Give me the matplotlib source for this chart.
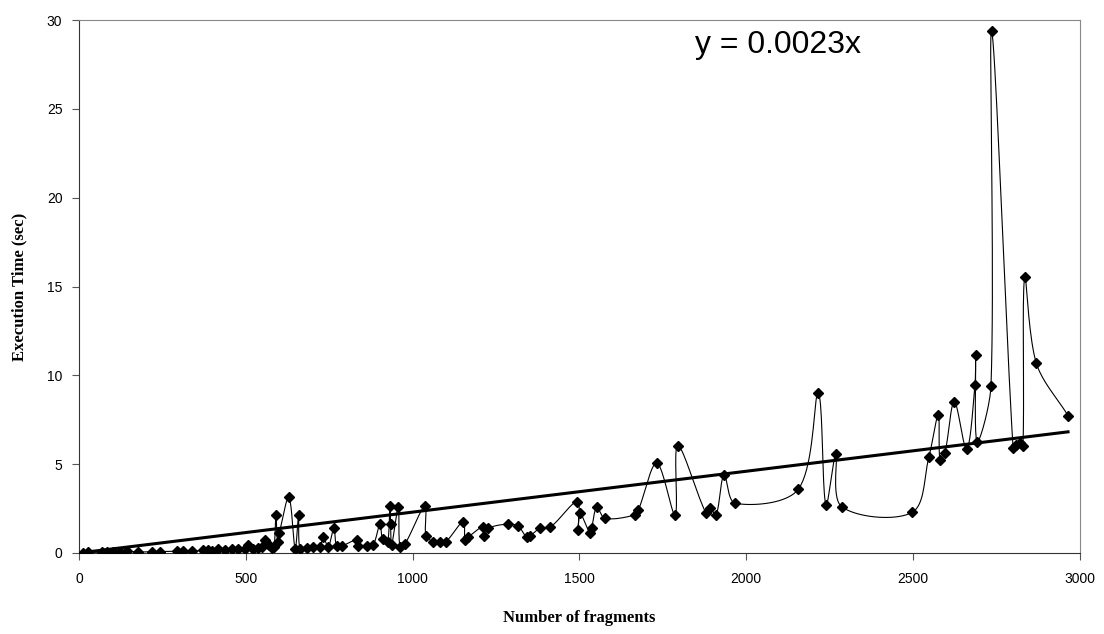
import numpy as np
import matplotlib
matplotlib.use('Agg')
import matplotlib.pyplot as plt

fragments = [13, 28, 68, 83, 103, 123, 143, 178, 218, 243, 293, 313, 338, 373, 388,
             400, 418, 438, 458, 478, 498, 508, 523, 538, 548, 558, 568, 578, 585,
             590, 595, 600, 629, 648, 658, 662, 682, 702, 722, 732, 747, 764, 772, 787,
             832, 837, 862, 882, 902, 910, 925, 932, 934, 937, 957, 962, 977,
             1037, 1040, 1062, 1082, 1100, 1152, 1157, 1167, 1212, 1214, 1227,
             1287, 1317, 1342, 1352, 1382, 1412, 1494, 1496, 1502, 1532, 1537,
             1552, 1577, 1667, 1677, 1732, 1787, 1795, 1880, 1892, 1910, 1934,
             1967, 2156, 2216, 2239, 2269, 2286, 2498, 2548, 2576, 2581, 2596,
             2624, 2661, 2686, 2688, 2692, 2734, 2736, 2800, 2810, 2820, 2830,
             2835, 2870, 2965]
exec_time = [0.02, 0.03, 0.05, 0.05, 0.08, 0.08, 0.1, 0.05, 0.08, 0.08, 0.1, 0.1, 0.1, 0.15, 0.15,
             0.12, 0.2, 0.18, 0.2, 0.2, 0.25, 0.45, 0.2, 0.3, 0.35, 0.73, 0.45, 0.3, 0.35,
             2.14, 0.64, 1.1, 3.13, 0.25, 2.14, 0.25, 0.3, 0.35, 0.35, 0.88, 0.35, 1.39, 0.4, 0.39,
             0.73, 0.39, 0.39, 0.45, 1.63, 0.77, 0.6, 2.64, 1.63, 0.45, 2.57, 0.36, 0.5,
             2.64, 0.96, 0.64, 0.64, 0.64, 1.76, 0.73, 0.9, 1.48, 0.96, 1.39,
             1.63, 1.5, 0.88, 0.96, 1.39, 1.44, 2.89, 1.29, 2.23, 1.11, 1.39,
             2.57, 1.95, 2.14, 2.42, 5.05, 2.14, 6.04, 2.23, 2.51, 2.14, 4.39,
             2.8, 3.58, 8.99, 2.7, 5.55, 2.61, 2.29, 5.42, 7.77, 5.23, 5.65,
             8.51, 5.83, 9.45, 11.14, 6.26, 9.4, 29.37, 5.93, 6.1, 6.2, 6.0,
             15.55, 10.68, 7.73]
slope = 0.0023

x = np.array(fragments, dtype=float)
y = np.array(exec_time, dtype=float)


def smooth(px, py, n=20):
    # Excel-like smoothed line: chord-weighted Catmull-Rom as cubic Bezier segments
    P = np.column_stack([px, py])
    P = np.vstack([P[0], P, P[-1]])
    d = np.r_[np.hypot(*np.diff(P, axis=0).T), 0]
    out = []
    t = np.linspace(0, 1, n)[:, None]
    for i in range(1, len(P) - 2):
        p0, p1, p2, p3 = P[i - 1], P[i], P[i + 1], P[i + 2]
        d01, d12, d23 = d[i - 1], d[i], d[i + 1]
        w1 = d12 / (d01 + d12) if d01 + d12 > 0 else 0
        w2 = d12 / (d12 + d23) if d12 + d23 > 0 else 0
        c1 = p1 + (p2 - p0) * w1 / 3
        c2 = p2 - (p3 - p1) * w2 / 3
        seg = ((1 - t) ** 3) * p1 + 3 * ((1 - t) ** 2) * t * c1 + 3 * (1 - t) * t ** 2 * c2 + t ** 3 * p2
        out.append(seg)
    out = np.vstack(out)
    return out[:, 0], out[:, 1]


fig = plt.figure(figsize=(11.04, 6.34), dpi=100)
ax = fig.add_axes([0.0716, 0.1278, 0.9064, 0.8406])

# x and y scales differ a lot -> smooth in screen units
sx, sy = x / 3000.0 * 1001, y / 30.0 * 533
cx, cy = smooth(sx, sy)
ax.plot(cx * 3000.0 / 1001, cy * 30.0 / 533, color='black', lw=0.8, zorder=2)
ax.plot(x, y, linestyle='none', marker='D', color='black', markersize=5, zorder=3)

# linear trendline through origin
tx = np.array([x.min(), x.max()])
ax.plot(tx, slope * tx, color='black', lw=2.2, zorder=4)
ax.text(1846, 28.6, 'y = 0.0023x', fontsize=23, family='Liberation Sans', ha='left', va='center')

ax.set_xlim(0, 3000)
ax.set_ylim(0, 30)
ax.set_xticks(np.arange(0, 3001, 500))
ax.set_yticks(np.arange(0, 31, 5))
for lab in ax.get_xticklabels() + ax.get_yticklabels():
    lab.set_family('Liberation Sans')
    lab.set_fontsize(10)
ax.tick_params(axis='x', direction='out', length=5, width=0.8, color='#555555', pad=9)
ax.tick_params(axis='y', direction='out', length=5, width=0.8, color='#555555', pad=7)

ax.spines['top'].set_color('#888888')
ax.spines['right'].set_color('#888888')
ax.spines['left'].set_color('#333333')
ax.spines['bottom'].set_color('#333333')

ax.set_xlabel('Number of fragments', family='Liberation Serif', fontweight='bold', fontsize=12, labelpad=17)
ax.set_ylabel('Execution Time (sec)', family='Liberation Serif', fontweight='bold', fontsize=12, labelpad=14)

fig.savefig('out.png', dpi=100)
